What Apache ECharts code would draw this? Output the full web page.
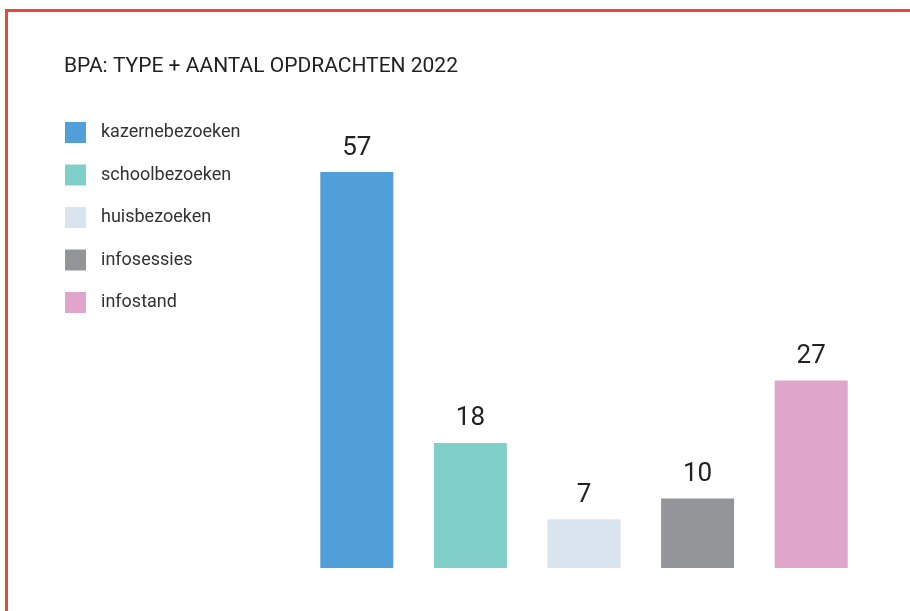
<!DOCTYPE html>
<html>
<head>
<meta charset="utf-8">
<script src="https://cdn.jsdelivr.net/npm/echarts@6/dist/echarts.min.js"></script>
<style>
html,body{margin:0;padding:0;background:#fff;}
#main{width:910px;height:611px;}
</style>
</head>
<body>
<div id="main"></div>
<script>
// categories + values
var categories = ['kazernebezoeken', 'schoolbezoeken', 'huisbezoeken', 'infosessies', 'infostand'];
var values = [57, 18, 7, 10, 27];
var colors = ['#529ed8', '#80cfc8', '#dae4ee', '#949599', '#dfa5ca'];

var myChart = echarts.init(document.getElementById('main'));

// one series per type so the legend gets one entry each
var series = categories.map(function(name, i) {
	var d = categories.map(function(c, j) {
		return j == i ? values[i] : '-';
	});
	return {
		name: name,
		type: 'bar',
		stack: 'all',
		data: d,
		barWidth: 73,
		itemStyle: { color: colors[i] },
		label: {
			show: true,
			position: 'top',
			distance: 11,
			fontSize: 26,
			color: '#222',
			fontFamily: 'Roboto'
		}
	};
});

var option = {
	animation: false,
	textStyle: { fontFamily: 'Roboto' },
	title: {
		text: 'BPA: TYPE + AANTAL OPDRACHTEN 2022',
		left: 59,
		top: 51,
		textStyle: { fontSize: 21, fontWeight: 'normal', color: '#222', fontFamily: 'Roboto' }
	},
	legend: {
		orient: 'vertical',
		left: 60,
		top: 117,
		itemWidth: 21,
		itemHeight: 21,
		itemGap: 21.5,
		icon: 'rect',
		textStyle: { fontSize: 18, color: '#333', padding: [0, 0, 0, 10], fontFamily: 'Roboto' },
		data: categories
	},
	grid: { left: 300, right: 42, top: 172, bottom: 43 },
	xAxis: {
		type: 'category',
		data: categories,
		axisLine: { show: false },
		axisTick: { show: false },
		axisLabel: { show: false }
	},
	yAxis: {
		type: 'value',
		min: 0,
		max: 57,
		show: false,
		splitLine: { show: false }
	},
	graphic: [{
		type: 'rect',
		shape: { x: 6.5, y: 10.5, width: 1000, height: 1000 },
		style: { fill: 'none', stroke: '#e8473a', lineWidth: 3 }
	}],
	series: series
};
myChart.setOption(option);
</script>
</body>
</html>
